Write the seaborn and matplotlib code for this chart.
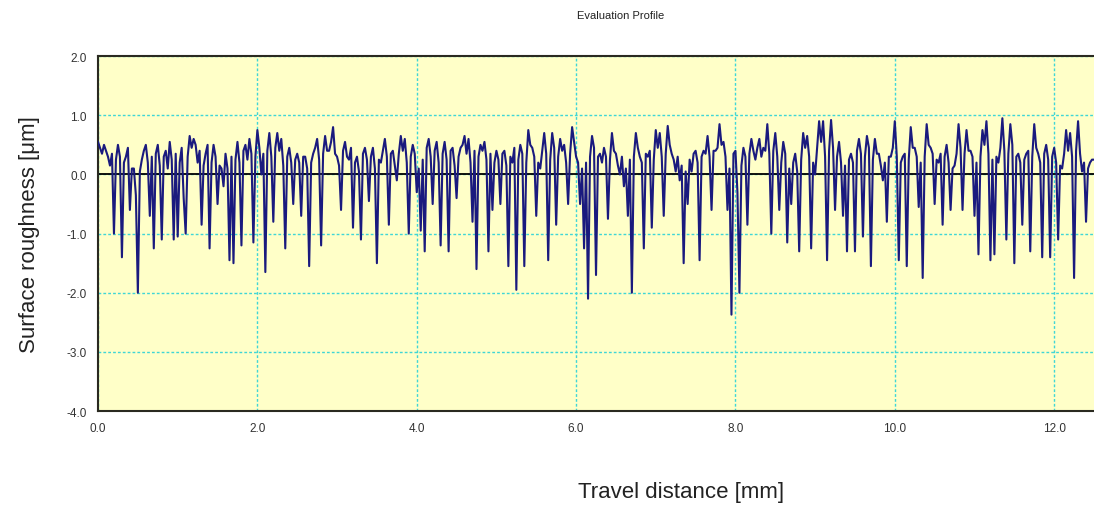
import numpy as np
import pandas as pd
import matplotlib
matplotlib.use("Agg")
import matplotlib.pyplot as plt
import seaborn as sns

# profile, one value every 0.025 mm, in 1.25 mm pieces
seg_a = [0.55, 0.45, 0.35, 0.50, 0.40, 0.30, 0.15, 0.35, -1.0, 0.25,
         0.50, 0.30, -1.40, 0.20, 0.30, 0.45, -0.60, 0.10, 0.10, -0.35,
         -2.0, 0.05, 0.25, 0.40, 0.50, 0.20, -0.70, 0.30, -1.25, 0.35,
         0.50, 0.15, -1.10, 0.30, 0.40, 0.10, 0.55, 0.25, -1.10, 0.35,
         -1.05, 0.20, 0.45, -0.40, -1.0, 0.30, 0.65, 0.45, 0.60, 0.50]
seg_b = [0.20, 0.40, -0.85, 0.15, 0.35, 0.50, -1.25, 0.20, 0.50, 0.30,
         -0.50, 0.15, 0.10, -0.20, 0.35, 0.10, -1.45, 0.30, -1.50, 0.25,
         0.55, 0.20, -1.20, 0.40, 0.50, 0.25, 0.60, 0.35, -1.15, 0.30,
         0.75, 0.45, 0.0, 0.35, -1.65, 0.40, 0.70, 0.30, -0.80, 0.45,
         0.70, 0.40, 0.60, 0.15, -1.25, 0.30, 0.45, 0.20, -0.50, 0.25]
seg_c = [0.35, 0.20, -0.70, 0.30, 0.30, 0.10, -1.55, 0.20, 0.35, 0.45,
         0.60, 0.25, -1.20, 0.35, 0.65, 0.40, 0.40, 0.55, 0.80, 0.35,
         0.30, 0.15, -0.60, 0.40, 0.55, 0.30, 0.25, 0.45, -0.90, 0.20,
         0.30, 0.05, -1.10, 0.35, 0.45, 0.25, -0.45, 0.30, 0.45, 0.10,
         -1.50, 0.25, 0.20, 0.40, 0.60, 0.30, -0.85, 0.35, 0.40, 0.15]
seg_d = [-0.10, 0.35, 0.65, 0.40, 0.60, 0.20, -1.0, 0.30, 0.50, 0.35,
         -0.30, 0.10, -0.95, 0.25, -1.30, 0.45, 0.60, 0.30, -0.50, 0.40,
         0.55, 0.20, -1.20, 0.35, 0.55, 0.25, -1.30, 0.40, 0.45, 0.15,
         -0.40, 0.30, 0.45, 0.50, 0.65, 0.35, 0.60, 0.20, -0.80, 0.40,
         -1.60, 0.30, 0.50, 0.40, 0.55, 0.25, -1.30, 0.35, -0.60, 0.20]
seg_e = [0.40, 0.25, -0.50, 0.35, 0.40, 0.15, -1.55, 0.30, 0.20, 0.45,
         -1.95, 0.25, 0.50, 0.35, -1.55, 0.20, 0.75, 0.50, 0.45, 0.30,
         -0.70, 0.20, 0.10, 0.40, 0.70, 0.35, -1.45, 0.25, 0.70, 0.45,
         -0.85, 0.30, 0.60, 0.40, 0.50, 0.20, -0.50, 0.35, 0.80, 0.55,
         0.30, 0.20, -0.50, 0.10, -1.25, 0.20, -2.10, 0.30, 0.65, 0.45]
seg_f = [-1.70, 0.30, 0.35, 0.20, 0.45, 0.30, -0.75, 0.25, 0.70, 0.40,
         0.35, 0.15, 0.0, 0.30, -0.20, 0.10, -0.70, 0.25, -2.0, 0.30,
         0.70, 0.45, 0.30, 0.20, -1.25, 0.35, 0.30, 0.40, -0.90, 0.25,
         0.75, 0.45, 0.70, 0.30, -0.70, 0.35, 0.82, 0.50, 0.35, 0.25,
         0.05, 0.30, -0.10, 0.15, -1.50, 0.05, -0.50, 0.25, 0.05, 0.35]
seg_g = [0.40, 0.20, -1.45, 0.30, 0.40, 0.35, 0.65, 0.30, -0.60, 0.40,
         0.40, 0.45, 0.85, 0.50, 0.55, 0.30, -0.60, 0.10, -2.37, 0.35,
         0.40, -0.30, -2.0, 0.15, 0.45, 0.30, -0.85, 0.35, 0.60, 0.40,
         0.25, 0.45, 0.60, 0.30, 0.45, 0.40, 0.85, 0.35, -1.0, 0.40,
         0.70, 0.30, -0.60, 0.20, 0.55, 0.35, -1.15, 0.10, -0.50, 0.20]
seg_h = [0.35, 0.05, -1.30, 0.25, 0.70, 0.45, 0.65, 0.30, -1.25, 0.20,
         0.0, 0.45, 0.90, 0.55, 0.90, 0.30, -1.45, 0.40, 0.92, 0.45,
         -0.60, 0.30, 0.55, 0.20, -0.70, 0.15, -1.30, 0.25, 0.35, 0.20,
         -1.30, 0.40, 0.60, 0.35, -1.05, 0.30, 0.65, 0.45, -1.55, 0.25,
         0.60, 0.35, 0.35, 0.15, -0.10, 0.20, -0.80, 0.30, 0.30, 0.45]
seg_i = [0.90, 0.30, -1.45, 0.20, 0.30, 0.35, -1.55, 0.25, 0.80, 0.45,
         0.45, 0.30, -0.55, 0.20, -1.75, 0.30, 0.85, 0.50, 0.45, 0.35,
         -0.50, 0.25, 0.20, 0.35, -0.85, 0.30, 0.50, 0.20, -0.60, 0.10,
         0.15, 0.35, 0.85, 0.45, -0.60, 0.35, 0.75, 0.40, 0.40, 0.30,
         -0.70, 0.20, -1.35, 0.30, 0.75, 0.50, 0.90, 0.35, -1.45, 0.25]
seg_j = [-1.35, 0.30, 0.20, 0.45, 0.95, 0.40, -1.10, 0.35, 0.85, 0.50,
         -1.50, 0.30, 0.35, 0.20, -0.85, 0.25, 0.35, 0.40, -1.30, 0.30,
         0.85, 0.45, 0.35, 0.20, -1.40, 0.35, 0.50, 0.25, -1.40, 0.30,
         0.45, 0.20, -1.10, 0.15, 0.10, 0.35, 0.75, 0.40, 0.70, 0.30,
         -1.75, 0.40, 0.90, 0.35, 0.05, 0.20, -0.80, 0.10, 0.20, 0.25,
         0.25]

step_mm = 0.025
x_ticks = [0.0, 2.0, 4.0, 6.0, 8.0, 10.0, 12.0]
y_ticks = [2.0, 1.0, 0.0, -1.0, -2.0, -3.0, -4.0]

height = (seg_a + seg_b + seg_c + seg_d + seg_e +
          seg_f + seg_g + seg_h + seg_i + seg_j)
df = pd.DataFrame({"distance": np.arange(len(height)) * step_mm,
                   "roughness": height})

fig = plt.figure(figsize=(10.94, 5.10), dpi=100)
ax = fig.add_axes([0.0896, 0.192, 0.9104, 0.696])
ax.set_facecolor("#ffffc8")

ax.axhline(0, color="black", lw=1.3, zorder=2)
sns.lineplot(data=df, x="distance", y="roughness", ax=ax, color="#1a1a7e",
             lw=1.5, zorder=3)

ax.set_xlim(0, 12.5)
ax.set_ylim(-4, 2)
ax.set_xticks(x_ticks)
ax.set_xticklabels([f"{v:.1f}" for v in x_ticks])
ax.set_yticks(y_ticks)
ax.set_yticklabels([f"{v:.1f}" for v in y_ticks])
ax.grid(True, color="#3fd6d6", ls=(0, (2, 1.5)), lw=1.0, zorder=1)
ax.tick_params(length=0, labelsize=8.5, labelcolor="#333333", pad=8)
for lab in ax.get_xticklabels() + ax.get_yticklabels():
    lab.set_family("Liberation Sans")
for s in ["left", "bottom", "top"]:
    ax.spines[s].set_color("#2a2a20")
    ax.spines[s].set_linewidth(1.5)
ax.spines["right"].set_visible(False)
ax.set_xlabel("")
ax.set_ylabel("")

fig.text(0.567, 0.968, "Evaluation Profile", ha="center", va="center",
         fontsize=8, family="Liberation Sans", color="#222222")
fig.text(0.027, 0.54, "Surface roughness [\u03bcm]", rotation=90, ha="center",
         va="center", fontsize=16, family="Liberation Sans", color="#222222")
fig.text(0.623, 0.035, "Travel distance [mm]", ha="center", va="center",
         fontsize=16, family="Liberation Sans", color="#222222")

fig.savefig("out.png", dpi=100)
